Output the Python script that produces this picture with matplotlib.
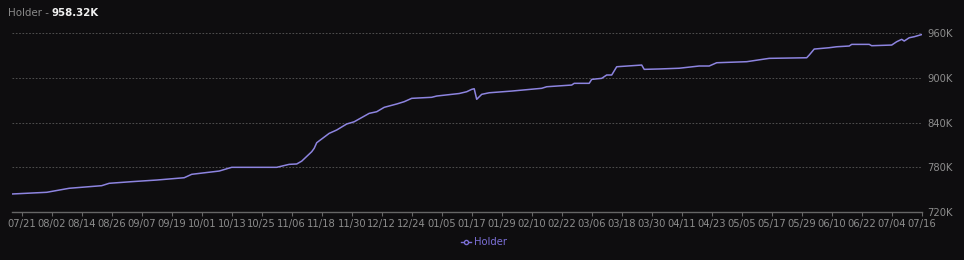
import matplotlib
matplotlib.use("Agg")
import matplotlib.pyplot as plt
from matplotlib.lines import Line2D
import pandas as pd

dates = ["2024-07-17", "2024-07-31", "2024-08-09", "2024-08-22", "2024-08-25", "2024-09-03",
         "2024-09-13", "2024-09-24", "2024-09-27", "2024-10-08", "2024-10-13", "2024-10-31",
         "2024-11-05", "2024-11-08", "2024-11-10", "2024-11-14", "2024-11-15", "2024-11-16",
         "2024-11-21", "2024-11-24", "2024-11-28", "2024-12-01", "2024-12-07", "2024-12-10",
         "2024-12-13", "2024-12-18", "2024-12-21", "2024-12-24", "2025-01-01", "2025-01-03",
         "2025-01-12", "2025-01-15", "2025-01-17", "2025-01-18", "2025-01-19", "2025-01-21",
         "2025-01-24", "2025-02-02", "2025-02-14", "2025-02-16", "2025-02-26", "2025-02-27",
         "2025-03-05", "2025-03-06", "2025-03-10", "2025-03-12", "2025-03-14", "2025-03-16",
         "2025-03-26", "2025-03-27", "2025-04-02", "2025-04-10", "2025-04-18", "2025-04-22",
         "2025-04-25", "2025-05-07", "2025-05-16", "2025-05-31", "2025-06-01", "2025-06-03",
         "2025-06-09", "2025-06-12", "2025-06-17", "2025-06-18", "2025-06-25", "2025-06-26",
         "2025-07-04", "2025-07-06", "2025-07-08", "2025-07-09", "2025-07-11", "2025-07-13",
         "2025-07-16"]
holders_k = [743.8, 746.1, 751.5, 755.0, 758.2, 760.4,
             762.6, 765.7, 770.3, 774.7, 779.7, 779.7,
             783.7, 784.2, 788.0, 800.7, 805.3, 812.8,
             825.4, 829.9, 838.0, 841.0, 852.3, 854.5,
             860.4, 864.9, 868.0, 872.5, 873.9, 875.6,
             879.0, 881.4, 884.6, 885.4, 871.2, 877.9,
             880.0, 882.3, 886.0, 888.1, 890.4, 892.7,
             892.7, 898.0, 899.4, 903.9, 903.9, 915.0,
             917.3, 911.5, 912.0, 913.0, 916.0, 916.0,
             920.4, 921.8, 926.3, 927.1, 930.7, 938.8,
             940.6, 941.9, 942.9, 945.1, 945.1, 943.3,
             944.2, 948.7, 951.9, 949.6, 954.0, 955.4,
             958.32]
y_ticks = [720, 780, 840, 900, 960]
y_tick_labels = ["720K", "780K", "840K", "900K", "960K"]
x_tick_start = "2024-07-21"
x_tick_step_days = 12
series_name = "Holder"
latest_label = "958.32K"

BG = "#0e0d0f"
LINE = "#8d84e0"
GRID = "#5a5a5a"
TXT = "#8c8c8c"

x = pd.to_datetime(dates)
fig = plt.figure(figsize=(9.64, 2.6), dpi=100, facecolor=BG)
ax = fig.add_axes([11.7 / 964, 1 - 211.7 / 260, (921.7 - 11.7) / 964, (211.7 - 33.3) / 260])
ax.set_facecolor(BG)
ax.plot(x, holders_k, color=LINE, lw=1.1, zorder=3)

ax.set_xlim(x[0], x[-1])
ax.set_ylim(y_ticks[0], y_ticks[-1])

xt = pd.date_range(x_tick_start, x[-1], freq=f"{x_tick_step_days}D")
ax.set_xticks(xt)
ax.set_xticklabels([d.strftime("%m/%d") for d in xt])
ax.set_yticks(y_ticks)
ax.set_yticklabels(y_tick_labels)
ax.yaxis.tick_right()

ax.grid(axis="y", color=GRID, ls=(0, (2, 2)), lw=0.6)
ax.grid(axis="x", visible=False)
for s in ["top", "left", "right"]:
    ax.spines[s].set_visible(False)
ax.spines["bottom"].set_color("#666666")
ax.spines["bottom"].set_linewidth(1.0)
ax.tick_params(axis="x", colors="#666666", labelcolor=TXT, length=3, width=0.8,
               labelsize=7.2, pad=2)
ax.tick_params(axis="y", length=0, labelcolor=TXT, labelsize=7.2, pad=4)

t1 = fig.text(8 / 964, 1 - 13 / 260, "Holder -", color="#8a8a8a", fontsize=7.4,
              va="center", ha="left")
fig.canvas.draw()
bb = t1.get_window_extent(renderer=fig.canvas.get_renderer())
fig.text((bb.x1 + 3) / fig.bbox.width, 1 - 13 / 260, latest_label, color="#f0f0f0",
         fontsize=7.4, fontweight="bold", va="center", ha="left")

handle = Line2D([], [], color="#7b6fd6", marker="o", markersize=3, markerfacecolor=BG,
                markeredgecolor="#7b6fd6", lw=1)
leg = fig.legend([handle], [series_name], loc="center", bbox_to_anchor=(484 / 964, 1 - 242 / 260),
                 frameon=False, fontsize=7.2, handlelength=1.0, handletextpad=0.3)
for t in leg.get_texts():
    t.set_color("#7b6fd6")

fig.savefig("out.png", dpi=100, facecolor=BG)
